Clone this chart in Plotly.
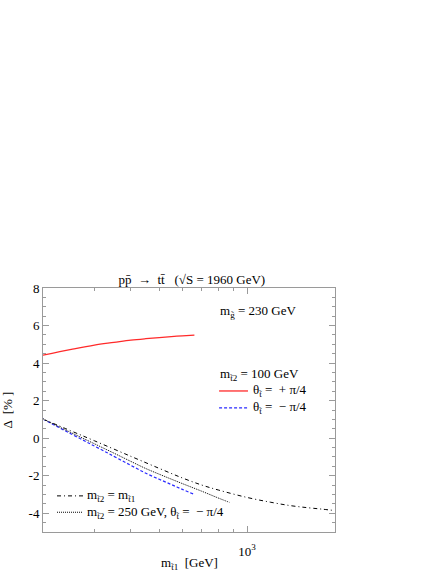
import numpy as np
import plotly.graph_objects as go

# ---- data ----
x_red = [200, 250, 300, 350, 400, 450, 500, 550, 600, 660]
y_red = [4.42, 4.73, 4.96, 5.10, 5.22, 5.30, 5.36, 5.41, 5.45, 5.49]

x_blue = [200, 250, 300, 350, 400, 450, 500, 550, 600, 660]
y_blue = [1.02, 0.22, -0.42, -0.97, -1.45, -1.87, -2.19, -2.47, -2.73, -3.00]

x_dot = [200, 250, 300, 350, 400, 450, 500, 600, 700, 800, 870]
y_dot = [1.02, 0.29, -0.30, -0.80, -1.24, -1.62, -1.92, -2.42, -2.83, -3.20, -3.42]

x_dd = [200, 250, 300, 400, 500, 600, 700, 800, 1000, 1200, 1400, 1600, 1800, 2000]
y_dd = [1.02, 0.38, -0.14, -0.97, -1.61, -2.12, -2.50, -2.77, -3.16, -3.41, -3.59, -3.70, -3.78, -3.86]

y_tickvals = [-4, -2, 0, 2, 4, 6, 8]
y_ticktext = ["-4", "-2", "0", "2", "4", "6", "8"]
x_tickvals = [1000]
x_ticktext = ["10<sup>3</sup>"]
x_minor = [300, 400, 500, 600, 700, 800, 900]

series_names = [
    "θ<sub>t̃</sub> =  + π/4",
    "θ<sub>t̃</sub> =  − π/4",
    "m<sub>t̃2</sub> = m<sub>t̃1</sub>",
    "m<sub>t̃2</sub> = 250 GeV, θ<sub>t̃</sub> =  − π/4",
]
x_title = "m<sub>t̃1</sub>  [GeV]"
y_title = "Δ  [% ]"

FONT = "Liberation Serif"
FRAME = "#9a9a9a"
RED = "#ff2a2a"
BLUE = "#2a2aff"
DASH_BLUE = "3px,2px"
DASH_DD = "4px,3px,1px,3px"
DASH_DOT = "1px,1px"

fig = go.Figure()
fig.add_trace(go.Scatter(x=x_red, y=y_red, mode="lines", line_shape="spline",
                         line=dict(color=RED, width=1.3), name=series_names[0]))
fig.add_trace(go.Scatter(x=x_blue, y=y_blue, mode="lines", line_shape="spline",
                         line=dict(color=BLUE, width=1.2, dash=DASH_BLUE), name=series_names[1]))
fig.add_trace(go.Scatter(x=x_dd, y=y_dd, mode="lines", line_shape="spline",
                         line=dict(color="black", width=1, dash=DASH_DD), name=series_names[2]))
fig.add_trace(go.Scatter(x=x_dot, y=y_dot, mode="lines", line_shape="spline",
                         line=dict(color="black", width=1, dash=DASH_DOT), name=series_names[3]))

axis_common = dict(showgrid=False, zeroline=False, showline=True, linecolor=FRAME,
                   linewidth=1, mirror="ticks", ticks="inside", tickcolor=FRAME,
                   automargin=False,
                   tickfont=dict(family=FONT, size=13, color="black"))

fig.update_xaxes(type="log", range=[np.log10(200), np.log10(2000)],
                 tickmode="array", tickvals=x_tickvals, ticktext=x_ticktext, ticklen=6,
                 ticklabelstandoff=7,
                 minor=dict(tickmode="array", tickvals=x_minor, ticks="inside",
                            ticklen=3, tickcolor=FRAME),
                 **axis_common)
fig.update_yaxes(range=[-5, 8], tickmode="array", tickvals=y_tickvals, ticktext=y_ticktext,
                 ticklen=6,
                 minor=dict(dtick=0.5, tick0=0, ticks="inside", ticklen=3, tickcolor=FRAME),
                 **axis_common)

# legend text + keys (paper coordinates of the plot area)
def label(text, x, y, **kw):
    d = dict(text=text, xref="paper", yref="paper", x=x, y=y, xanchor="left",
             yanchor="middle", showarrow=False, font=dict(family=FONT, size=13, color="black"))
    d.update(kw)
    return d

def key(x0, x1, y, color, dash, width):
    return dict(type="line", xref="paper", yref="paper", x0=x0, x1=x1, y0=y, y1=y,
                line=dict(color=color, dash=dash, width=width))

annotations = [
    label("m<sub>g̃</sub> = 230 GeV", 0.600, 0.903),
    label("m<sub>t̃2</sub> = 100 GeV", 0.600, 0.646),
    label(series_names[0], 0.712, 0.578),
    label(series_names[1], 0.712, 0.509),
    label(series_names[2], 0.143, 0.148),
    label(series_names[3], 0.143, 0.081),
    label(x_title, 0.5, -0.128, xanchor="center"),
    label(y_title, -0.125, 0.5, xanchor="center", textangle=-90),
]
shapes = [
    key(0.603, 0.702, 0.578, RED, "solid", 1.3),
    key(0.603, 0.702, 0.509, BLUE, DASH_BLUE, 1.2),
    key(0.048, 0.137, 0.148, "black", DASH_DD, 1),
    key(0.048, 0.137, 0.081, "black", DASH_DOT, 1),
]

fig.update_layout(
    width=442, height=571,
    margin=dict(l=43, r=107, t=288, b=39, autoexpand=False),
    paper_bgcolor="white", plot_bgcolor="white",
    font=dict(family=FONT, size=13, color="black"),
    title=dict(text="pp̄  →  tt̄   (√S = 1960 GeV)", x=0.434, xanchor="center",
               y=1 - 279 / 571, yanchor="middle", font=dict(family=FONT, size=13)),
    showlegend=False,
    annotations=annotations,
    shapes=shapes,
)

fig.write_html("out.html", config={"displayModeBar": False},
               post_script="document.body.style.margin='0';")
